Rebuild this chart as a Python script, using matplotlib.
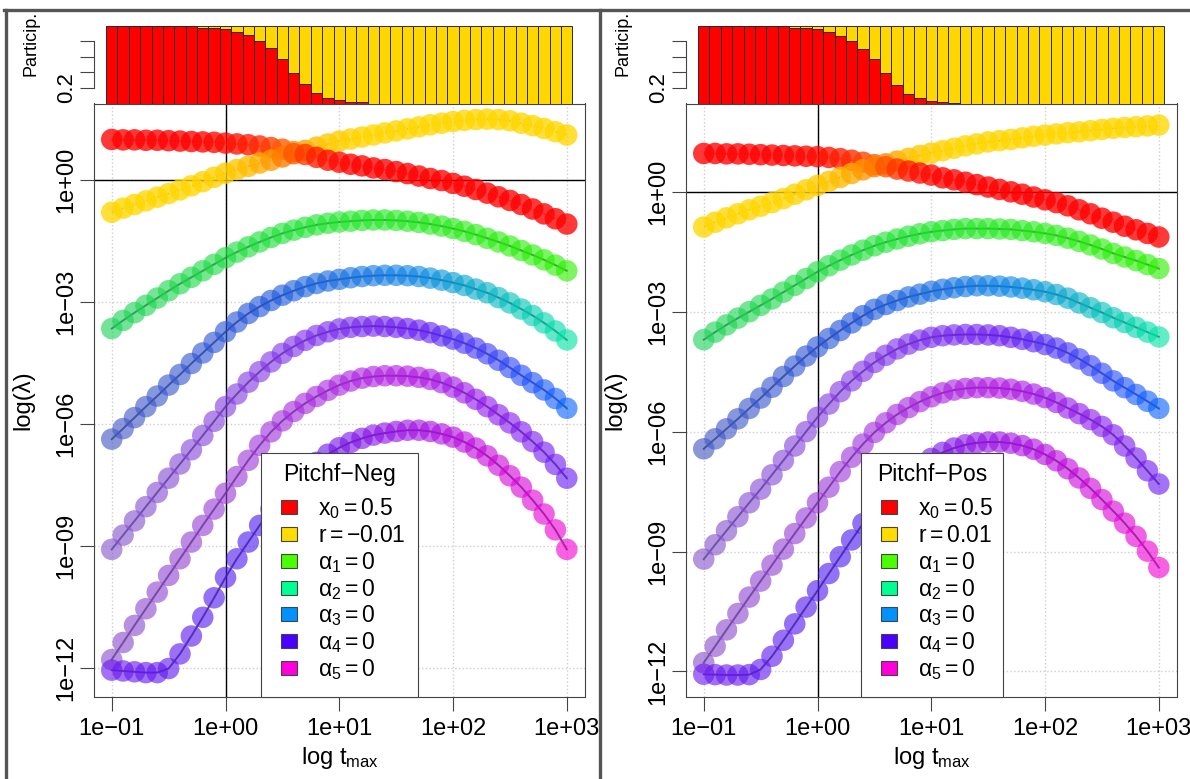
import numpy as np
import matplotlib.pyplot as plt
from matplotlib.colors import LinearSegmentedColormap, to_rgb
from matplotlib.patches import Rectangle
from matplotlib.lines import Line2D
from matplotlib.ticker import NullLocator

plt.rcParams['font.family'] = ['Liberation Sans', 'DejaVu Sans']
plt.rcParams['mathtext.fontset'] = 'custom'
plt.rcParams['mathtext.rm'] = 'Liberation Sans'
plt.rcParams['mathtext.it'] = 'Liberation Sans:italic'
plt.rcParams['mathtext.sf'] = 'Liberation Sans'

W, H = 1190, 779

# ------------------------------
# Data (log10 of lambda, 41 values of t_max from 1e-01 to 1e+03)
# ------------------------------
log_t = np.linspace(-1, 3, 41)
t = 10 ** log_t

# Pitchf-Neg
red_neg = [0.99, 0.98, 0.98, 0.97, 0.97, 0.96, 0.95, 0.94, 0.93, 0.92, 0.90, 0.88, 0.86, 0.83,
           0.79, 0.75, 0.69, 0.62, 0.55, 0.48, 0.43, 0.38, 0.34, 0.29, 0.25, 0.20, 0.15, 0.09,
           0.03, -0.02, -0.09, -0.16, -0.24, -0.33, -0.42, -0.51, -0.61, -0.72, -0.84, -0.96, -1.09]
yellow_neg = [-0.80, -0.70, -0.61, -0.52, -0.43, -0.34, -0.25, -0.15, -0.05, 0.06, 0.16, 0.25, 0.33,
              0.41, 0.48, 0.56, 0.64, 0.72, 0.80, 0.88, 0.95, 1.00, 1.05, 1.10, 1.15, 1.20, 1.25,
              1.30, 1.35, 1.39, 1.43, 1.46, 1.48, 1.49, 1.48, 1.45, 1.39, 1.33, 1.26, 1.18, 1.10]
green_neg = [-3.66, -3.46, -3.27, -3.09, -2.91, -2.73, -2.56, -2.40, -2.24, -2.08, -1.92, -1.78, -1.65,
             -1.53, -1.42, -1.32, -1.24, -1.17, -1.11, -1.07, -1.04, -1.02, -1.00, -0.99, -0.99, -1.00,
             -1.02, -1.05, -1.09, -1.14, -1.20, -1.27, -1.35, -1.44, -1.53, -1.63, -1.74, -1.85, -1.97,
             -2.10, -2.24]
blue_neg = [-6.38, -6.12, -5.85, -5.58, -5.32, -5.05, -4.79, -4.52, -4.26, -4.00, -3.74, -3.50, -3.29,
            -3.12, -2.97, -2.84, -2.73, -2.63, -2.55, -2.49, -2.45, -2.41, -2.38, -2.36, -2.35, -2.35,
            -2.36, -2.38, -2.42, -2.47, -2.53, -2.60, -2.69, -2.78, -2.90, -3.03, -3.18, -3.34, -3.52,
            -3.72, -3.94]
purple_neg = [-9.09, -8.74, -8.39, -8.04, -7.69, -7.34, -6.99, -6.64, -6.29, -5.94, -5.58, -5.27, -4.98,
              -4.72, -4.48, -4.27, -4.10, -3.95, -3.83, -3.74, -3.67, -3.63, -3.61, -3.60, -3.61, -3.63,
              -3.66, -3.70, -3.76, -3.84, -3.92, -4.02, -4.14, -4.28, -4.44, -4.62, -4.81, -4.99, -5.17,
              -5.38, -5.62]
magenta_neg = [-11.80, -11.38, -10.96, -10.55, -10.14, -9.73, -9.32, -8.91, -8.50, -8.10, -7.71, -7.30,
               -6.90, -6.53, -6.20, -5.93, -5.70, -5.50, -5.33, -5.18, -5.05, -4.95, -4.88, -4.84, -4.82,
               -4.82, -4.83, -4.86, -4.91, -4.99, -5.10, -5.24, -5.40, -5.58, -5.78, -5.98, -6.20, -6.44,
               -6.70, -7.00, -7.34]
violet_neg = [-12.06, -12.08, -12.10, -12.12, -12.12, -12.02, -11.66, -11.22, -10.76, -10.28, -9.78,
              -9.32, -8.91, -8.50, -8.10, -7.77, -7.46, -7.19, -6.95, -6.75, -6.59, -6.46, -6.36, -6.28,
              -6.23, -6.19, -6.16, -6.16, -6.19, -6.25, -6.33, -6.45, -6.60, -6.79, -7.02, -7.28, -7.56,
              -7.88, -8.22, -8.61, -9.09]
# participation of x0 (red) in the leading eigenvalue
partic_neg = [1.0, 1.0, 1.0, 1.0, 1.0, 1.0, 1.0, 0.995, 0.98, 0.97, 0.957, 0.92, 0.88, 0.81, 0.71,
              0.58, 0.40, 0.25, 0.14, 0.07, 0.04, 0.02, 0.015, 0, 0, 0, 0, 0, 0, 0, 0, 0, 0, 0, 0,
              0, 0, 0, 0, 0, 0]

# Pitchf-Pos
red_pos = [0.96, 0.96, 0.95, 0.95, 0.94, 0.93, 0.92, 0.91, 0.90, 0.89, 0.88, 0.86, 0.83, 0.79, 0.74,
           0.68, 0.63, 0.57, 0.52, 0.47, 0.42, 0.35, 0.30, 0.24, 0.18, 0.12, 0.06, 0.00, -0.06, -0.13,
           -0.20, -0.27, -0.35, -0.45, -0.55, -0.66, -0.76, -0.86, -0.95, -1.04, -1.13]
yellow_pos = [-0.88, -0.76, -0.65, -0.55, -0.45, -0.36, -0.27, -0.17, -0.06, 0.05, 0.16, 0.26, 0.36,
              0.46, 0.55, 0.63, 0.70, 0.77, 0.84, 0.91, 0.97, 1.03, 1.09, 1.15, 1.20, 1.25, 1.28, 1.31,
              1.35, 1.39, 1.42, 1.45, 1.48, 1.50, 1.53, 1.56, 1.59, 1.61, 1.63, 1.65, 1.67]
green_pos = [-3.70, -3.51, -3.33, -3.16, -3.00, -2.84, -2.68, -2.51, -2.34, -2.17, -2.00, -1.85, -1.71,
             -1.58, -1.46, -1.35, -1.26, -1.18, -1.11, -1.05, -1.00, -0.97, -0.94, -0.92, -0.92, -0.92,
             -0.93, -0.94, -0.97, -1.00, -1.04, -1.09, -1.16, -1.24, -1.33, -1.43, -1.54, -1.63, -1.72,
             -1.82, -1.92]
blue_pos = [-6.43, -6.18, -5.93, -5.68, -5.42, -5.16, -4.89, -4.62, -4.36, -4.11, -3.88, -3.67, -3.47,
            -3.28, -3.10, -2.94, -2.82, -2.72, -2.63, -2.56, -2.49, -2.44, -2.40, -2.37, -2.35, -2.35,
            -2.36, -2.38, -2.41, -2.45, -2.50, -2.57, -2.66, -2.78, -2.90, -3.02, -3.15, -3.27, -3.39,
            -3.51, -3.63]
purple_pos = [-9.19, -8.83, -8.48, -8.13, -7.78, -7.44, -7.08, -6.72, -6.36, -6.00, -5.64, -5.31, -5.00,
              -4.73, -4.49, -4.27, -4.09, -3.93, -3.81, -3.71, -3.64, -3.60, -3.58, -3.57, -3.57, -3.58,
              -3.60, -3.64, -3.69, -3.75, -3.82, -3.91, -4.03, -4.18, -4.35, -4.54, -4.73, -4.90, -5.07,
              -5.24, -5.42]
magenta_pos = [-11.78, -11.37, -10.96, -10.55, -10.14, -9.74, -9.34, -8.94, -8.55, -8.16, -7.78, -7.39,
               -7.00, -6.64, -6.31, -6.02, -5.78, -5.57, -5.40, -5.25, -5.13, -5.03, -4.96, -4.92, -4.90,
               -4.90, -4.91, -4.94, -4.99, -5.06, -5.15, -5.27, -5.41, -5.55, -5.70, -5.87, -6.08, -6.36,
               -6.66, -6.98, -7.31]
violet_pos = [-12.07, -12.08, -12.09, -12.09, -12.08, -11.95, -11.62, -11.22, -10.81, -10.39, -9.98,
              -9.55, -9.13, -8.71, -8.30, -7.93, -7.60, -7.31, -7.06, -6.85, -6.67, -6.52, -6.41, -6.33,
              -6.28, -6.26, -6.26, -6.29, -6.35, -6.44, -6.57, -6.73, -6.93, -7.16, -7.42, -7.70, -7.99,
              -8.29, -8.62, -8.99, -9.40]
partic_pos = [1.0, 1.0, 1.0, 1.0, 1.0, 1.0, 1.0, 0.995, 0.98, 0.97, 0.96, 0.92, 0.87, 0.80, 0.70,
              0.57, 0.39, 0.24, 0.12, 0.065, 0.035, 0.02, 0.01, 0, 0, 0, 0, 0, 0, 0, 0, 0, 0, 0, 0,
              0, 0, 0, 0, 0, 0]

x_ticks = [0.1, 1, 10, 100, 1000]
x_labels = ['1e\u221201', '1e+00', '1e+01', '1e+02', '1e+03']
y_ticks = [1e-12, 1e-9, 1e-6, 1e-3, 1]
y_labels = ['1e\u221212', '1e\u221209', '1e\u221206', '1e\u221203', '1e+00']

legend_colors = ['#FF0000', '#FFDB00', '#49FF00', '#00FF92', '#0092FF', '#4900FF', '#FF00DB']
labels_neg = [r'$\mathrm{x}_0 = 0.5$', r'$\mathrm{r} = -0.01$', r'$\mathrm{\alpha}_1 = 0$',
              r'$\mathrm{\alpha}_2 = 0$', r'$\mathrm{\alpha}_3 = 0$', r'$\mathrm{\alpha}_4 = 0$',
              r'$\mathrm{\alpha}_5 = 0$']
labels_pos = [r'$\mathrm{x}_0 = 0.5$', r'$\mathrm{r} = 0.01$', r'$\mathrm{\alpha}_1 = 0$',
              r'$\mathrm{\alpha}_2 = 0$', r'$\mathrm{\alpha}_3 = 0$', r'$\mathrm{\alpha}_4 = 0$',
              r'$\mathrm{\alpha}_5 = 0$']

# colour ramps along t for the lower eigenvalues (left -> right)
ramps = [
    ['#1ed25a', '#1ee62a', '#2cf000'],
    ['#4658c4', '#2054dc', '#0a84e6', '#00e4a4'],
    ['#8658cc', '#8438e6', '#6a18f4', '#0a64ff'],
    ['#8a50cc', '#a034dc', '#b418e4', '#6c1cf4'],
    ['#6c18f0', '#4a1cf0', '#a010e4', '#f400d4'],
]

fig = plt.figure(figsize=(W / 100, H / 100), dpi=100)


def px_axes(left, top, right, bottom):
    return fig.add_axes([left / W, 1 - bottom / H, (right - left) / W, (bottom - top) / H])


def panel(dx, ylim, red, yel, lows, partic, title, labels, leg_left, leg_width):
    ax = px_axes(94 + dx, 103.5, 585 + dx, 697)
    ax.set_xscale('log')
    ax.set_yscale('log')
    ax.set_xlim(10 ** -1.156, 10 ** 3.16)
    ax.set_ylim(10 ** ylim[0], 10 ** ylim[1])
    for v in x_ticks:
        ax.axvline(v, color='#d0d0d0', ls=':', lw=1, zorder=0)
    for v in y_ticks:
        ax.axhline(v, color='#d0d0d0', ls=':', lw=1, zorder=0)
    ax.axvline(1, color='black', lw=1, zorder=1)
    ax.axhline(1, color='black', lw=1, zorder=1)

    # two leading eigenvalues coloured by the x0 / r participation
    red = np.array(red)
    yel = np.array(yel)
    pp = np.array(partic)[:, None]
    c_red = np.array(to_rgb('#FF0000'))
    c_yel = np.array(to_rgb('#FFD700'))
    upper = np.maximum(red, yel)
    lower = np.minimum(red, yel)
    for yv, cols in ((upper, pp * c_red + (1 - pp) * c_yel), (lower, (1 - pp) * c_red + pp * c_yel)):
        ax.plot(t, 10 ** yv, color='#222222', lw=1, ls=':', alpha=0.6, zorder=2)
        ax.scatter(t, 10 ** yv, s=240, c=cols, alpha=0.78, linewidths=0, zorder=3)

    for yv, ramp in zip(lows, ramps):
        cols = LinearSegmentedColormap.from_list('ramp', ramp)(np.linspace(0, 1, len(t)))
        ax.plot(t, 10 ** np.array(yv), color='#202040', lw=1.4, alpha=0.8, zorder=4)
        ax.scatter(t, 10 ** np.array(yv), s=240, c=cols, alpha=0.62, linewidths=0, zorder=5)

    ax.set_xticks(x_ticks, x_labels)
    ax.set_yticks(y_ticks, y_labels, rotation=90, va='center')
    ax.xaxis.set_minor_locator(NullLocator())
    ax.yaxis.set_minor_locator(NullLocator())
    ax.tick_params(direction='out', length=10, width=0.8, color='#444444', labelsize=17)
    ax.tick_params(axis='x', pad=5)
    ax.tick_params(axis='y', pad=2)
    for s in ax.spines.values():
        s.set_color('#444444')
        s.set_linewidth(0.8)

    # participation bars on top
    bx = px_axes(94 + dx, 26, 585 + dx, 103.5)
    idx = np.arange(len(partic))
    p = np.array(partic)
    bx.bar(idx, p, width=1, color='#FF0000', edgecolor='#2a2a2a', lw=0.7)
    bx.bar(idx, 1 - p, bottom=p, width=1, color='#FFD700', edgecolor='#2a2a2a', lw=0.7)
    bx.set_xlim(-1.56, 41.6)
    bx.set_ylim(0, 1)
    bx.patch.set_alpha(0)
    for side in ('top', 'right', 'bottom'):
        bx.spines[side].set_visible(False)
    bx.spines['left'].set_bounds(0.2, 0.8)
    bx.spines['left'].set_color('#444444')
    bx.set_xticks([])
    bx.set_yticks([0.2, 0.4, 0.6, 0.8], ['0.2', '', '', ''], rotation=90, va='center')
    bx.tick_params(direction='out', length=10, width=0.8, color='#444444', labelsize=16, pad=2)

    fig.text((31 + dx) / W, 1 - 43 / H, 'Particip.', rotation=90, ha='center', va='center', size=13)
    fig.text((23 + dx) / W, 1 - 400 / H, 'log(\u03bb)', rotation=90, ha='center', va='center', size=17)
    fig.text((339.5 + dx) / W, 1 - 764 / H, r'log $\mathrm{t}_{\mathrm{max}}$',
             ha='center', va='baseline', size=17)

    # legend drawn by hand (bottom centre of the panel)
    fig.add_artist(Rectangle((leg_left / W, 1 - 697 / H), leg_width / W, (697 - 452.7) / H,
                             transform=fig.transFigure, facecolor='white', edgecolor='#444444',
                             lw=0.8, zorder=6))
    fig.text((leg_left + leg_width / 2) / W, 1 - 480.7 / H, title, ha='center', va='baseline',
             size=16.5, zorder=7)
    rows = [506.7, 534, 560.7, 587.7, 614.3, 641, 668.3]
    for row, col, lab in zip(rows, legend_colors, labels):
        fig.add_artist(Rectangle(((leg_left + 20.3) / W, 1 - (row + 7) / H), 16 / W, 14 / H,
                                 transform=fig.transFigure, facecolor=col, edgecolor='#444444',
                                 lw=0.8, zorder=7))
        fig.text((leg_left + 57) / W, 1 - (row + 8) / H, lab, ha='left', va='baseline',
                 size=16.5, zorder=7)


panel(0, (-12.72, 1.874), red_neg, yellow_neg,
      [green_neg, blue_neg, purple_neg, magenta_neg, violet_neg], partic_neg,
      'Pitchf\u2212Neg', labels_neg, 260.7, 157.3)
panel(592, (-12.64, 2.21), red_pos, yellow_pos,
      [green_pos, blue_pos, purple_pos, magenta_pos, violet_pos], partic_pos,
      'Pitchf\u2212Pos', labels_pos, 861, 142.3)

# screenshot frame
for xs, ys in (([4, 1190], [9.5, 9.5]), ([5.5, 5.5], [9.5, 779]), ([600, 600], [9.5, 779])):
    fig.add_artist(Line2D([x / W for x in xs], [1 - y / H for y in ys], color='#555555', lw=2.4,
                          transform=fig.transFigure))

plt.savefig('out.png', dpi=100)
